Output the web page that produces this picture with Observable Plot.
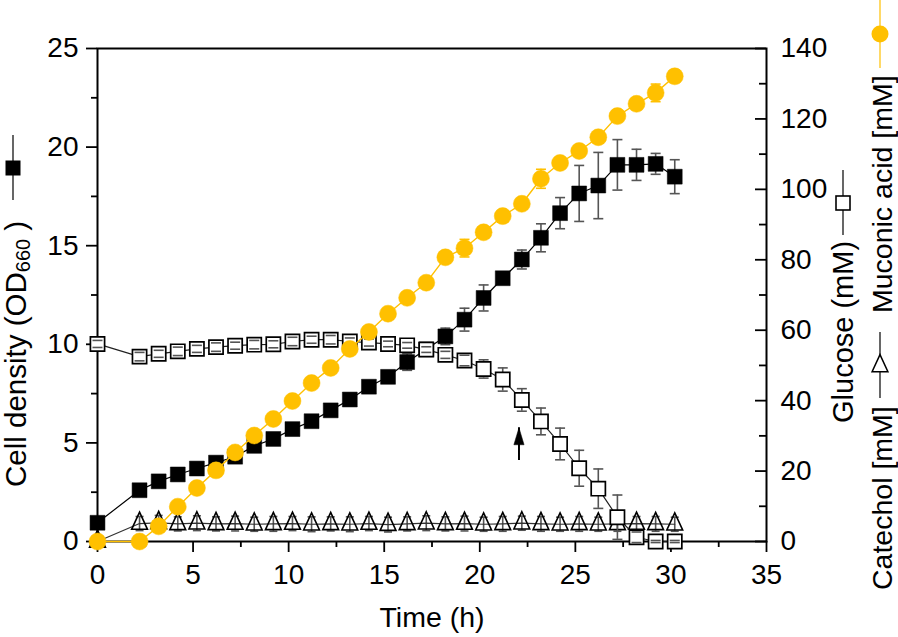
<!DOCTYPE html>
<html>
<head>
<meta charset="utf-8">
<script src="https://cdn.jsdelivr.net/npm/d3@7"></script>
<script src="https://cdn.jsdelivr.net/npm/@observablehq/plot@0.6"></script>
<style>
  html, body { margin: 0; padding: 0; background: #fff; }
  #chart svg { display: block; }
</style>
</head>
<body>
<div id="chart"></div>
<script>
// ---------------- data ----------------
const time = [0, 2.2, 3.2, 4.2, 5.2, 6.2, 7.2, 8.2, 9.2, 10.2, 11.2, 12.2, 13.2, 14.2, 15.2,
  16.2, 17.2, 18.2, 19.2, 20.2, 21.2, 22.2, 23.2, 24.2, 25.2, 26.2, 27.2, 28.2, 29.2, 30.2];
// Cell density (OD660), left axis
const cellDensity = [0.95, 2.6, 3.05, 3.4, 3.7, 4.0, 4.3, 4.85, 5.2, 5.7, 6.1, 6.65, 7.2, 7.85, 8.35,
  9.1, 9.75, 10.4, 11.25, 12.35, 13.35, 14.3, 15.4, 16.65, 17.65, 18.05, 19.1, 19.1, 19.15, 18.5];
const cellDensityErr = [0.1, 0.15, 0.1, 0.15, 0.1, 0.15, 0.1, 0.15, 0.1, 0.2, 0.15, 0.2, 0.15, 0.2, 0.2,
  0.42, 0.3, 0.42, 0.58, 0.66, 0.3, 0.48, 0.71, 0.79, 1.42, 1.68, 1.28, 0.79, 0.53, 0.86];
// Glucose (mM), right axis
const glucose = [56.1, 52.5, 53.3, 54.0, 54.7, 55.2, 55.6, 55.9, 56.0, 56.8, 57.3, 57.3, 56.8, 56.5, 56.1,
  55.7, 54.5, 53.0, 51.4, 49.0, 46.0, 40.2, 34.1, 27.7, 20.8, 15.0, 6.9, 1.2, 0, 0];
const glucoseErr = [1.0, 1.2, 1.0, 1.2, 1.0, 1.2, 1.0, 1.2, 1.0, 1.2, 1.0, 1.2, 1.0, 1.0, 0.8,
  0.8, 0.8, 1.0, 1.5, 2.6, 3.3, 3.2, 3.8, 4.5, 5.1, 5.6, 6.3, 1.5, 0.3, 0.3];
// Muconic acid [mM], right axis
const muconic = [0, 0, 4.3, 9.9, 15.2, 20.2, 25.3, 30.1, 34.8, 39.9, 45.0, 49.3, 54.7, 59.5, 64.7,
  69.2, 73.5, 80.7, 83.3, 87.8, 92.4, 95.9, 103.0, 107.5, 110.9, 114.8, 120.8, 124.3, 127.4, 132.1];
const muconicErr = [0, 0, 0.5, 0.6, 0.6, 0.7, 0.7, 0.8, 0.8, 0.9, 0.9, 1.0, 1.0, 1.1, 1.1,
  1.2, 1.2, 1.4, 2.5, 1.5, 1.5, 1.5, 2.7, 1.6, 1.6, 1.6, 1.7, 1.7, 2.5, 1.8];
// Catechol [mM], right axis
const catechol = [0, 5.1, 5.3, 5.0, 5.2, 5.0, 5.1, 4.9, 5.0, 5.1, 4.9, 5.0, 4.9, 5.1, 4.8,
  5.0, 5.2, 5.0, 5.1, 4.9, 5.0, 5.2, 5.0, 4.9, 5.0, 4.9, 5.0, 5.1, 5.0, 4.9];
const catecholErr = [0, 2.0, 2.1, 2.0, 2.1, 2.0, 2.1, 2.0, 2.1, 2.0, 2.1, 2.0, 2.1, 2.0, 2.1,
  2.0, 2.1, 2.0, 2.1, 2.0, 2.1, 2.0, 2.1, 2.0, 2.1, 2.0, 2.1, 2.0, 2.1, 2.0];
// Arrow marking (time, right-axis mM)
const arrowTime = [22.05];
const arrowFrom = [23.0];
const arrowTo = [32.3];

// Tick values
const xTicks = [0, 5, 10, 15, 20, 25, 30, 35];
const xMinorTicks = [2.5, 7.5, 12.5, 17.5, 22.5, 27.5, 32.5];
const leftTicks = [0, 5, 10, 15, 20, 25];
const leftMinorTicks = [2.5, 7.5, 12.5, 17.5, 22.5];
const rightTicks = [0, 20, 40, 60, 80, 100, 120, 140];
const rightMinorTicks = [10, 30, 50, 70, 90, 110, 130];

// ---------------- build ----------------
const LEFT_MAX = 25, RIGHT_MAX = 140;
const K = LEFT_MAX / RIGHT_MAX; // right-axis value -> left-axis units
const FONT = "'Liberation Sans', Arial, Helvetica, sans-serif";
const YELLOW = "#FFC000";
const ERR = "#555555";

const rows = time.map((t, i) => ({
  t,
  od: cellDensity[i], odErr: cellDensityErr[i],
  glc: glucose[i] * K, glcErr: glucoseErr[i] * K,
  muc: muconic[i] * K, mucErr: muconicErr[i] * K,
  cat: catechol[i] * K, catErr: catecholErr[i] * K
}));
const arrows = arrowTime.map((t, i) => ({t, from: arrowFrom[i] * K, to: arrowTo[i] * K}));

// custom symbols
const capSymbol = {draw(ctx, size) { const w = Math.sqrt(size / Math.PI); ctx.moveTo(-w, 0); ctx.lineTo(w, 0); }};
const triSymbol = {draw(ctx, size) { const r = Math.sqrt(size / Math.PI);
  ctx.moveTo(0, -1.33 * r); ctx.lineTo(0.92 * r, 0.67 * r); ctx.lineTo(-0.92 * r, 0.67 * r); ctx.closePath(); }};
const headSymbol = {draw(ctx, size) { const r = Math.sqrt(size / Math.PI);
  ctx.moveTo(0, 0); ctx.lineTo(0.3 * r, r); ctx.lineTo(-0.3 * r, r); ctx.closePath(); }};

function errorMarks(key, errKey, color, capR) {
  return [
    Plot.ruleX(rows, {x: "t", y1: d => d[key] - d[errKey], y2: d => d[key] + d[errKey], stroke: color, strokeWidth: 1.6}),
    Plot.dot(rows, {x: "t", y: d => d[key] - d[errKey], symbol: capSymbol, r: capR, stroke: color, strokeWidth: 1.6, fill: "none"}),
    Plot.dot(rows, {x: "t", y: d => d[key] + d[errKey], symbol: capSymbol, r: capR, stroke: color, strokeWidth: 1.6, fill: "none"})
  ];
}

const plot = Plot.plot({
  width: 898,
  height: 637,
  marginLeft: 97,
  marginRight: 132,
  marginTop: 48,
  marginBottom: 96,
  style: {fontFamily: FONT, fontSize: "28px", color: "black", background: "white", overflow: "visible"},
  x: {domain: [0, 35]},
  y: {domain: [0, LEFT_MAX]},
  marks: [
    // axes
    Plot.axisX({ticks: xTicks, tickSize: 11, tickPadding: 12, tickFormat: d => d, label: null, fontSize: 28, strokeWidth: 1.8}),
    Plot.axisX({ticks: xMinorTicks, tickSize: 6, tickFormat: () => "", fill: "none", label: null, strokeWidth: 1.8}),
    Plot.axisY({ticks: leftTicks, tickSize: 11, tickPadding: 8, tickFormat: d => d, label: null, fontSize: 28, strokeWidth: 1.8}),
    Plot.axisY({ticks: leftMinorTicks, tickSize: 6, tickFormat: () => "", fill: "none", label: null, strokeWidth: 1.8}),
    // right axis (mM): inward ticks drawn by shifting a left-anchored tick set across the frame
    Plot.axisY({anchor: "left", ticks: rightTicks.map(v => v * K), tickSize: 11, dx: 669, tickFormat: () => "", fill: "none", label: null, strokeWidth: 1.8}),
    Plot.axisY({anchor: "left", ticks: rightMinorTicks.map(v => v * K), tickSize: 7, dx: 669, tickFormat: () => "", fill: "none", label: null, strokeWidth: 1.8}),
    Plot.axisY({anchor: "right", ticks: rightTicks.map(v => v * K), tickSize: 0, tickPadding: 14, tickFormat: v => Math.round(v / K), label: null, fontSize: 28}),
    Plot.frame({stroke: "black", strokeWidth: 2}),
    Plot.text(["Time (h)"], {text: d => d, frameAnchor: "bottom", dy: 85, fontSize: 28.5, fill: "black"}),

    // catechol (open triangles)
    ...errorMarks("cat", "catErr", ERR, 4),
    Plot.line(rows, {x: "t", y: "cat", stroke: "#333", strokeWidth: 1.2}),
    Plot.dot(rows, {x: "t", y: "cat", symbol: triSymbol, r: 8.6, stroke: "black", strokeWidth: 1.6, fill: "none"}),

    // cell density (filled squares)
    ...errorMarks("od", "odErr", ERR, 5),
    Plot.line(rows, {x: "t", y: "od", stroke: "black", strokeWidth: 1.2}),
    Plot.dot(rows, {x: "t", y: "od", symbol: "square", r: 8.4, fill: "black", stroke: "black", strokeWidth: 0.5}),

    // glucose (open squares)
    Plot.ruleX(rows, {x: "t", y1: d => d.glc - d.glcErr, y2: d => d.glc + d.glcErr, stroke: ERR, strokeWidth: 1.6}),
    Plot.line(rows, {x: "t", y: "glc", stroke: "#222", strokeWidth: 1.2}),
    Plot.dot(rows, {x: "t", y: "glc", symbol: "square", r: 8.0, fill: "white", stroke: "black", strokeWidth: 1.7}),
    Plot.dot(rows, {x: "t", y: d => d.glc - d.glcErr, symbol: capSymbol, r: 5, stroke: ERR, strokeWidth: 1.6, fill: "none"}),
    Plot.dot(rows, {x: "t", y: d => d.glc + d.glcErr, symbol: capSymbol, r: 5, stroke: ERR, strokeWidth: 1.6, fill: "none"}),

    // muconic acid (yellow circles)
    ...errorMarks("muc", "mucErr", YELLOW, 5),
    Plot.line(rows, {x: "t", y: "muc", stroke: YELLOW, strokeWidth: 1.4}),
    Plot.dot(rows, {x: "t", y: "muc", r: 8.5, fill: YELLOW, stroke: YELLOW, strokeWidth: 0.5}),

    // arrow
    Plot.ruleX(arrows, {x: "t", y1: "from", y2: "to", stroke: "black", strokeWidth: 2}),
    Plot.dot(arrows, {x: "t", y: "to", symbol: headSymbol, r: 17, fill: "black", stroke: "black", strokeWidth: 0.5})
  ]
});

document.getElementById("chart").appendChild(plot);

// ---------------- rotated axis titles with legend keys ----------------
const svg = d3.select(plot);
const ann = svg.append("g").attr("font-family", FONT).attr("fill", "black");

function vtext(x, yBottom, size) {
  const g = ann.append("g").attr("transform", `translate(${x},${yBottom}) rotate(-90)`);
  return g.append("text").attr("x", 0).attr("y", 0).attr("dominant-baseline", "central")
    .attr("font-size", size).attr("text-anchor", "start");
}
function keyLine(x, yTop, yBottom, color) {
  ann.append("line").attr("x1", x).attr("x2", x).attr("y1", yTop).attr("y2", yBottom)
    .attr("stroke", color).attr("stroke-width", 1.2);
}

// Left: Cell density (OD660)
const tl = vtext(15, 487, 29.5);
tl.append("tspan").text("Cell density (OD");
tl.append("tspan").attr("font-size", 20).attr("dy", 8).text("660");
tl.append("tspan").attr("dy", -8).text(" )");
keyLine(13, 135, 200, "black");
ann.append("rect").attr("x", 13 - 7.5).attr("y", 168 - 7.5).attr("width", 15).attr("height", 15).attr("fill", "black");

// Right: Glucose (mM)
vtext(843, 423, 29).text("Glucose (mM)");
keyLine(843, 170, 235, "black");
ann.append("rect").attr("x", 843 - 7).attr("y", 203 - 7).attr("width", 14).attr("height", 14)
  .attr("fill", "white").attr("stroke", "black").attr("stroke-width", 1.6);

// Right: Catechol [mM]
vtext(882, 590, 28.5).text("Catechol [mM]");
keyLine(880, 332, 398, "black");
ann.append("path").attr("transform", "translate(880,366)")
  .attr("d", d3.symbol(triSymbol, Math.PI * 8.6 * 8.6)())
  .attr("fill", "white").attr("stroke", "black").attr("stroke-width", 1.5);

// Right: Muconic acid [mM]
vtext(882, 313, 28.5).text("Muconic acid [mM]");
keyLine(880, 0, 68, YELLOW);
ann.append("circle").attr("cx", 880).attr("cy", 34).attr("r", 8.5).attr("fill", YELLOW);
</script>
</body>
</html>
